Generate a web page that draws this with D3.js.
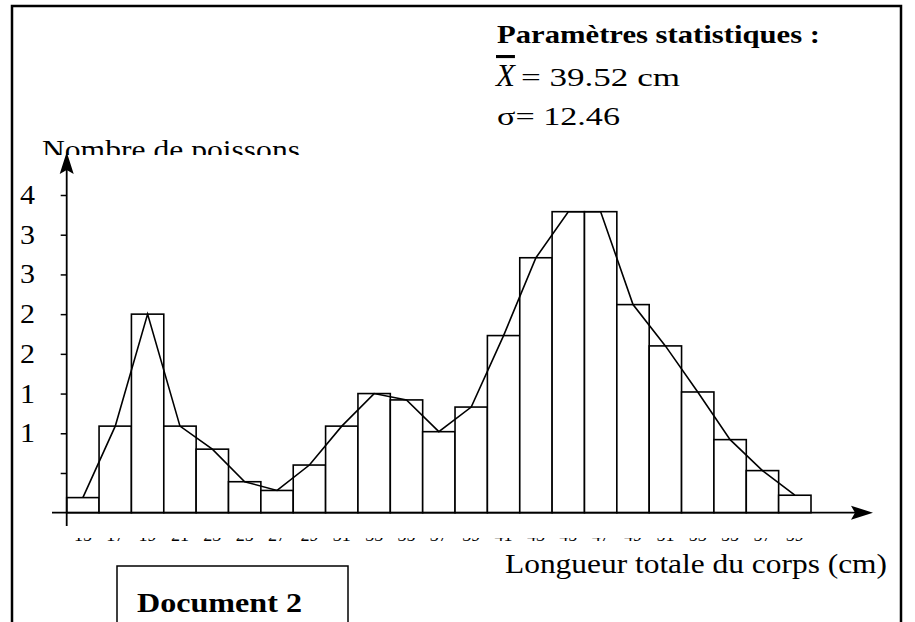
<!DOCTYPE html>
<html>
<head>
<meta charset="utf-8">
<script src="https://cdn.jsdelivr.net/npm/d3@7"></script>
<style>
  body { margin: 0; background: #fff; }
  svg text { font-family: "Liberation Serif", "Times New Roman", serif; fill: #000; }
</style>
</head>
<body>
<svg id="canvas" width="915" height="622"></svg>
<script>
// class centres (cm) and heights (axis units)
const classes = [15, 17, 19, 21, 23, 25, 27, 29, 31, 33, 35, 37, 39, 41, 43, 45, 47, 49, 51, 53, 55, 57, 59];
const counts = [0.19, 1.09, 2.50, 1.09, 0.80, 0.39, 0.28, 0.60, 1.09, 1.50, 1.42, 1.02, 1.33, 2.23, 3.21, 3.79, 3.79, 2.62, 2.10, 1.52, 0.92, 0.53, 0.22];
const yTicks = [0.5, 1, 1.5, 2, 2.5, 3, 3.5, 4];
const yTickLabels = ['', '1', '1', '2', '2', '3', '3', '4'];
const statLines = ['= 39.52 cm', '= 12.46'];

const svg = d3.select('#canvas');

const x = d3.scaleBand().domain(classes).range([66.7, 811]).padding(0);
const y = d3.scaleLinear().domain([0, 4]).range([512.7, 195]);
const x0 = x.range()[0];
const yBase = y(0);

// the source text is a bit wider than the fonts here, so stretch to fit
const fitText = (sel, len) => sel.attr('textLength', len).attr('lengthAdjust', 'spacingAndGlyphs');

// outer frame
svg.append('path')
    .attr('d', 'M12,630 L12,6 L901,6 L901,630')
    .attr('fill', 'none')
    .attr('stroke', '#000')
    .attr('stroke-width', 2.5);

// bars
svg.append('g').selectAll('rect')
    .data(counts)
    .enter()
    .append('rect')
    .attr('x', (d, i) => x(classes[i]))
    .attr('y', d => y(d))
    .attr('width', x.bandwidth())
    .attr('height', d => yBase - y(d))
    .attr('fill', '#fff')
    .attr('stroke', '#000')
    .attr('stroke-width', 1.6);

// frequency polygon
const line = d3.line()
    .x((d, i) => x(classes[i]) + x.bandwidth() / 2)
    .y(d => y(d));

svg.append('path')
    .datum(counts)
    .attr('d', line)
    .attr('fill', 'none')
    .attr('stroke', '#000')
    .attr('stroke-width', 1.6);

// axes lines + arrows
svg.append('line')
    .attr('x1', 52).attr('x2', 856)
    .attr('y1', yBase).attr('y2', yBase)
    .attr('stroke', '#000').attr('stroke-width', 1.8);
svg.append('path')
    .attr('d', `M873,${yBase} L851,${yBase - 7} L855,${yBase} L851,${yBase + 7} Z`)
    .attr('fill', '#000');

svg.append('line')
    .attr('x1', x0).attr('x2', x0)
    .attr('y1', 526).attr('y2', 168)
    .attr('stroke', '#000').attr('stroke-width', 1.8);
svg.append('path')
    .attr('d', `M${x0},152 L${x0 - 7},174 L${x0},170 L${x0 + 7},174 Z`)
    .attr('fill', '#000');

// y ticks
const yAxis = d3.axisLeft(y)
    .tickValues(yTicks)
    .tickSize(6)
    .tickFormat('');
const yG = svg.append('g')
    .attr('transform', `translate(${x0},0)`)
    .call(yAxis);
yG.select('.domain').remove();
yG.selectAll('.tick line').attr('stroke', '#000').attr('stroke-width', 1.5);

svg.append('g').selectAll('text')
    .data(yTicks)
    .enter()
    .append('text')
    .attr('x', 20)
    .attr('y', d => y(d) + 9)
    .attr('font-size', 27)
    .text((d, i) => yTickLabels[i])
    .each(function(d, i) {
        if (yTickLabels[i]) fitText(d3.select(this), 15);
    });

// x tick labels: only their lower sliver shows in the document
svg.append('clipPath').attr('id', 'xclip')
    .append('rect').attr('x', 0).attr('y', 538).attr('width', 915).attr('height', 3);
svg.append('g')
    .attr('clip-path', 'url(#xclip)')
    .selectAll('text')
    .data(classes)
    .enter()
    .append('text')
    .attr('x', d => x(d) + x.bandwidth() / 2)
    .attr('y', 541)
    .attr('text-anchor', 'middle')
    .attr('font-size', 18)
    .text(d => d);

// y title, cut at the bottom
svg.append('clipPath').attr('id', 'yclip')
    .append('rect').attr('x', 0).attr('y', 120).attr('width', 400).attr('height', 35);
fitText(svg.append('text')
    .attr('clip-path', 'url(#yclip)')
    .attr('x', 42)
    .attr('y', 159)
    .attr('font-size', 27)
    .text('Nombre de poissons'), 258);

// x title
fitText(svg.append('text')
    .attr('x', 505)
    .attr('y', 573)
    .attr('font-size', 28)
    .text('Longueur totale du corps (cm)'), 382);

// statistics block
fitText(svg.append('text')
    .attr('x', 497)
    .attr('y', 43)
    .attr('font-size', 26)
    .attr('font-weight', 'bold')
    .text('Paramètres statistiques :'), 323);

svg.append('text')
    .attr('x', 496)
    .attr('y', 86)
    .attr('font-size', 31)
    .attr('font-style', 'italic')
    .style('text-decoration', 'overline')
    .text('X');
fitText(svg.append('text')
    .attr('x', 521)
    .attr('y', 86)
    .attr('font-size', 26)
    .text(statLines[0]), 159);

fitText(svg.append('text')
    .attr('x', 497)
    .attr('y', 125)
    .attr('font-size', 26)
    .text('σ' + statLines[1]), 123);

// document box
svg.append('rect')
    .attr('x', 117).attr('y', 566)
    .attr('width', 231).attr('height', 80)
    .attr('fill', 'none')
    .attr('stroke', '#000')
    .attr('stroke-width', 1.5);
fitText(svg.append('text')
    .attr('x', 137)
    .attr('y', 612)
    .attr('font-size', 28)
    .attr('font-weight', 'bold')
    .text('Document 2'), 165);
</script>
</body>
</html>
